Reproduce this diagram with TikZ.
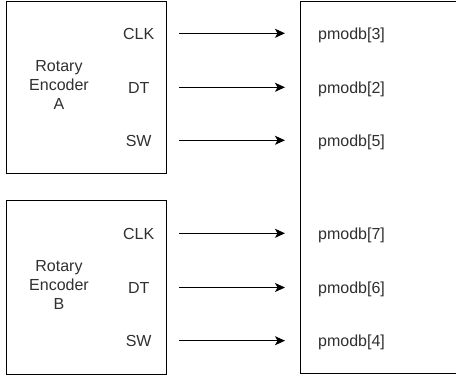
\documentclass[tikz,border=0pt]{standalone}
\usepackage{fontspec}
\setmainfont{Liberation Sans}
\usetikzlibrary{arrows.meta}
\definecolor{labelgray}{HTML}{303030}
\begin{document}
\begin{tikzpicture}[x=1pt,y=-1pt,
  box/.style={draw=black, line width=1pt, inner sep=0pt, anchor=north west},
  txt/.style={font=\fontsize{16}{19}\selectfont, text=labelgray, inner sep=0pt},
  title/.style={txt, align=center},
  pin/.style={txt, anchor=base},
  port/.style={txt, anchor=base west},
  wire/.style={line width=1.1pt, -{Stealth[length=10pt,width=9pt,inset=2.5pt]}}]
\useasboundingbox (0,0) rectangle (456,377);
\fill[white] (0,0) rectangle (456,377);
\clip (0,0) rectangle (456,377);

% encoder blocks and the receiving port block
\node[box, minimum width=160.5pt, minimum height=172.5pt] (encA) at (5.5,1) {};
\node[box, minimum width=160.5pt, minimum height=173.5pt] (encB) at (5.5,200.5) {};
\node[box, minimum width=200pt, minimum height=372pt] (pmod) at (299.5,1) {};

\node[title] (nameA) at (59,84.5) {Rotary\\Encoder\\A};
\node[title] (nameB) at (59,284.5) {Rotary\\Encoder\\B};

% signal rows: y, pin name, port index, id
\foreach \y/\pinname/\idx/\id in {33.3/CLK/3/a1, 87.3/DT/2/a2, 140.3/SW/5/a3,
                                  233.3/CLK/7/b1, 287.5/DT/6/b2, 340.7/SW/4/b3} {
  \node[pin] (pin\id) at (138.7,\y+5.8) {\pinname};
  \node[port] (port\id) at (318,\y+5.8) {pmodb[\idx]};
  \coordinate (src\id) at (179,\y);
  \coordinate (dst\id) at (285,\y);
  \draw[wire] (src\id) -- (dst\id);
}
\end{tikzpicture}
\end{document}
